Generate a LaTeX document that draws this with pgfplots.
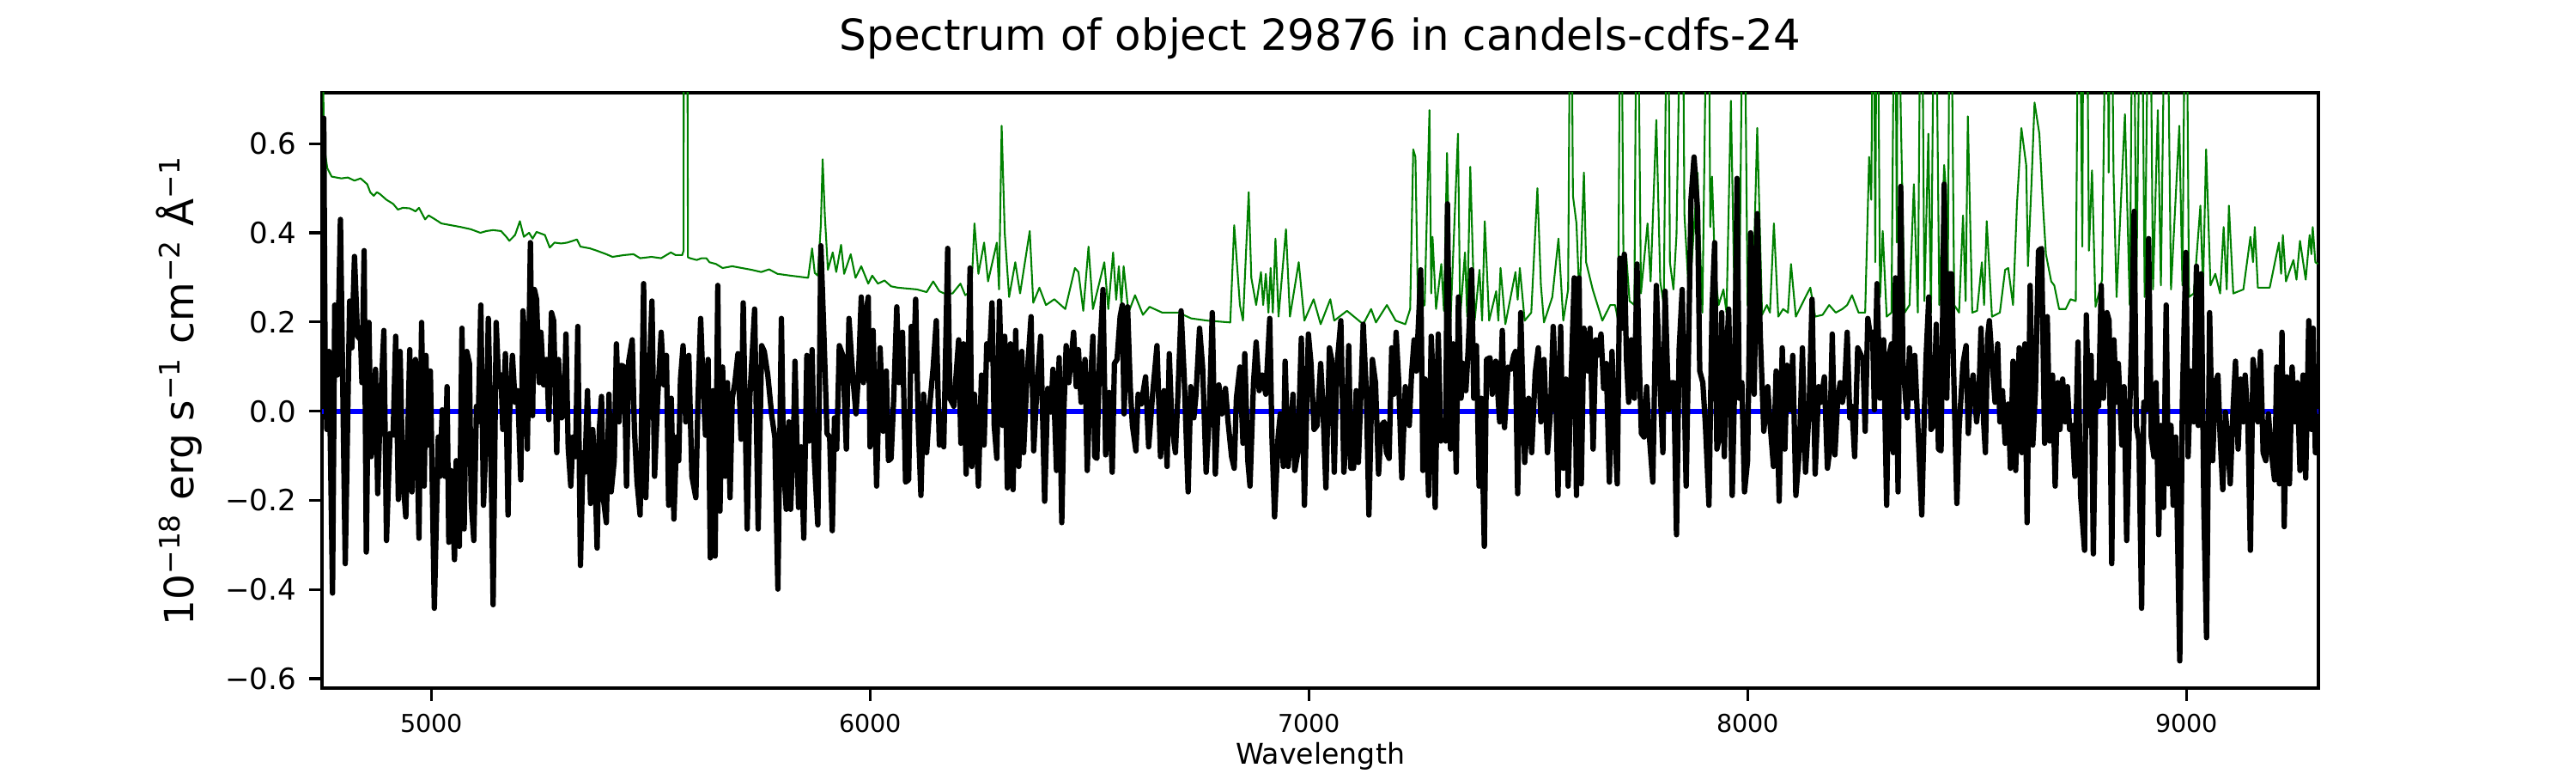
\documentclass[border=0pt]{standalone}
\usepackage{fontspec}
\setmainfont{DejaVu Sans}
\usepackage{pgfplots}
\pgfplotsset{compat=1.18}
\definecolor{mplgreen}{HTML}{008000}
\definecolor{mplblue}{HTML}{0000FF}
\begin{document}
\begin{tikzpicture}
\path[use as bounding box] (0,0) rectangle (10in,3in);
\begin{axis}[
  at={(1.25in,0.33in)}, anchor=south west, scale only axis,
  width=7.75in, height=2.31in,
  xmin=4750, xmax=9300, ymin=-0.621, ymax=0.714,
  axis line style={line width=0.8pt},
  tick align=outside, xtick pos=bottom, ytick pos=left,
  major tick length=3.5pt,
  every tick/.style={black, line width=0.8pt},
  xtick={5000,6000,7000,8000,9000},
  xticklabels={5000,6000,7000,8000,9000},
  ytick={-0.6,-0.4,-0.2,0,0.2,0.4,0.6},
  yticklabels={−0.6,−0.4,−0.2,0.0,0.2,0.4,0.6},
  xticklabel style={font=\fontsize{6.9}{8}\selectfont, anchor=north, inner sep=0pt, yshift=-3.5pt},
  yticklabel style={font=\fontsize{8.2}{10}\selectfont, anchor=east, inner sep=0pt, xshift=-3.5pt},
  title={Spectrum of object 29876 in candels-cdfs-24},
  title style={at={(axis description cs:0.5,1)}, anchor=base, yshift=6pt, inner sep=0pt, font=\fontsize{12}{14}\selectfont},
  xlabel={Wavelength},
  xlabel style={at={(axis description cs:0.5,0)}, anchor=north, yshift=-15.1pt, inner sep=0pt, font=\fontsize{8}{10}\selectfont},
  ylabel={10\textsuperscript{−18} erg s\textsuperscript{−1} cm\textsuperscript{−2} Å\textsuperscript{−1}},
  ylabel style={at={(axis description cs:-0.0642,0.5)}, anchor=base, inner sep=0pt, font=\fontsize{11.3}{13}\selectfont},
  clip=true,
]
\addplot[mplgreen, line width=0.5pt, line join=round] coordinates {
(4750,1.2)(4752,0.80)(4754,0.64)(4757,0.58)(4762,0.545)(4772,0.526)(4794,0.522)(4809,0.524)(4824,0.517)(4838,0.522)(4853,0.509)(4860,0.491)(4868,0.483)(4875,0.491)(4882,0.487)(4897,0.474)(4912,0.465)(4923,0.452)(4934,0.456)(4949,0.455)(4956,0.452)(4963,0.448)(4971,0.456)(4985,0.430)(4993,0.439)(5008,0.430)(5022,0.421)(5044,0.417)(5066,0.413)(5089,0.408)(5111,0.400)(5125,0.404)(5140,0.406)(5158,0.404)(5170,0.391)(5177,0.382)(5190,0.395)(5201,0.426)(5210,0.391)(5222,0.400)(5230,0.387)(5239,0.402)(5258,0.395)(5269,0.367)(5280,0.378)(5295,0.376)(5309,0.378)(5331,0.385)(5339,0.369)(5361,0.365)(5376,0.360)(5398,0.352)(5412,0.346)(5438,0.350)(5460,0.352)(5475,0.343)(5501,0.346)(5523,0.343)(5545,0.356)(5556,0.350)(5571,0.350)(5574,0.36)(5575,1.2)(5582,1.2)(5584,0.345)(5589,0.343)(5604,0.339)(5615,0.343)(5626,0.343)(5633,0.334)(5648,0.330)(5663,0.321)(5685,0.325)(5707,0.321)(5729,0.317)(5751,0.312)(5769,0.318)(5788,0.308)(5817,0.304)(5858,0.299)(5867,0.365)(5873,0.31)(5880,0.304)(5887,0.42)(5891,0.565)(5896,0.439)(5903,0.317)(5914,0.356)(5922,0.312)(5933,0.373)(5940,0.308)(5955,0.352)(5966,0.299)(5979,0.325)(5995,0.286)(6004,0.304)(6017,0.286)(6032,0.293)(6047,0.280)(6062,0.277)(6084,0.275)(6106,0.273)(6128,0.267)(6143,0.291)(6157,0.269)(6168,0.264)(6187,0.264)(6205,0.286)(6216,0.260)(6230,0.27)(6237,0.421)(6246,0.308)(6259,0.378)(6268,0.291)(6288,0.378)(6293,0.273)(6299,0.640)(6306,0.400)(6316,0.256)(6330,0.334)(6341,0.264)(6363,0.404)(6371,0.243)(6385,0.277)(6400,0.238)(6419,0.251)(6444,0.229)(6466,0.321)(6474,0.312)(6485,0.225)(6497,0.369)(6507,0.229)(6533,0.334)(6542,0.229)(6553,0.356)(6560,0.25)(6566,0.325)(6572,0.24)(6577,0.325)(6588,0.221)(6603,0.260)(6621,0.216)(6636,0.234)(6665,0.221)(6702,0.221)(6731,0.208)(6768,0.203)(6820,0.199)(6829,0.417)(6842,0.238)(6849,0.203)(6862,0.491)(6868,0.299)(6879,0.238)(6890,0.312)(6895,0.238)(6901,0.308)(6907,0.221)(6912,0.321)(6917,0.221)(6923,0.387)(6930,0.212)(6947,0.408)(6956,0.212)(6976,0.334)(6989,0.203)(7010,0.251)(7026,0.195)(7048,0.251)(7057,0.203)(7086,0.225)(7123,0.195)(7141,0.229)(7152,0.199)(7177,0.238)(7197,0.203)(7219,0.195)(7230,0.229)(7237,0.587)(7242,0.570)(7248,0.229)(7263,0.238)(7274,0.675)(7278,0.264)(7281,0.391)(7289,0.229)(7301,0.330)(7307,0.225)(7314,0.579)(7322,0.203)(7339,0.622)(7344,0.212)(7355,0.356)(7360,0.212)(7367,0.548)(7377,0.203)(7388,0.317)(7394,0.203)(7400,0.426)(7410,0.203)(7426,0.269)(7431,0.203)(7436,0.321)(7447,0.195)(7470,0.312)(7475,0.25)(7480,0.321)(7491,0.203)(7506,0.221)(7520,0.500)(7528,0.282)(7535,0.199)(7554,0.256)(7568,0.387)(7579,0.203)(7590,0.273)(7596,1.2)(7601,0.483)(7609,0.421)(7616,0.247)(7626,0.535)(7631,0.334)(7646,0.273)(7668,0.203)(7686,0.238)(7697,0.238)(7704,0.203)(7710,1.2)(7716,0.352)(7723,0.343)(7730,0.247)(7741,0.238)(7747,1.2)(7756,0.264)(7771,0.421)(7778,0.291)(7791,0.653)(7800,0.291)(7808,0.238)(7817,1.2)(7822,0.334)(7830,0.273)(7837,0.395)(7850,1.2)(7855,0.443)(7866,0.247)(7885,0.535)(7896,0.221)(7909,1.2)(7914,0.413)(7918,0.526)(7925,0.308)(7933,0.238)(7944,0.273)(7951,0.221)(7961,0.696)(7969,0.256)(7980,0.212)(7990,1.2)(7999,0.238)(8010,0.212)(8021,0.635)(8032,0.216)(8043,0.238)(8050,0.221)(8059,0.421)(8069,0.212)(8080,0.229)(8091,0.221)(8098,0.330)(8109,0.212)(8131,0.256)(8142,0.277)(8153,0.212)(8170,0.216)(8185,0.238)(8200,0.221)(8215,0.229)(8226,0.238)(8237,0.260)(8252,0.221)(8267,0.221)(8276,0.570)(8281,0.474)(8286,1.2)(8290,0.334)(8294,1.2)(8301,0.256)(8307,0.404)(8316,0.212)(8327,0.221)(8335,1.2)(8339,0.378)(8342,1.2)(8348,0.675)(8357,0.221)(8368,0.238)(8378,0.509)(8387,0.221)(8395,1.2)(8402,0.247)(8411,0.622)(8417,0.221)(8426,1.2)(8436,0.238)(8447,0.552)(8451,0.500)(8455,0.238)(8461,1.2)(8470,0.238)(8481,0.221)(8490,0.439)(8496,0.247)(8501,0.661)(8511,0.221)(8522,0.225)(8533,0.334)(8538,0.238)(8544,0.426)(8556,0.212)(8574,0.221)(8586,0.317)(8593,0.321)(8604,0.238)(8613,0.465)(8623,0.635)(8634,0.552)(8638,0.325)(8646,0.509)(8653,0.692)(8664,0.622)(8672,0.465)(8679,0.352)(8691,0.291)(8698,0.282)(8709,0.229)(8724,0.229)(8735,0.251)(8747,0.247)(8754,1.2)(8762,0.369)(8765,1.2)(8771,1.2)(8777,0.360)(8784,0.540)(8792,0.234)(8807,0.295)(8818,1.2)(8822,0.535)(8827,1.2)(8833,0.535)(8840,0.256)(8859,0.666)(8870,0.238)(8878,1.2)(8885,0.264)(8896,1.2)(8904,0.256)(8915,1.2)(8923,0.273)(8934,0.675)(8941,0.282)(8953,1.2)(8964,0.273)(8983,0.640)(8990,0.282)(8998,1.2)(9005,0.256)(9016,0.264)(9031,0.461)(9037,0.273)(9044,0.587)(9054,0.282)(9065,0.308)(9076,0.264)(9084,0.413)(9091,0.273)(9096,0.461)(9106,0.264)(9129,0.273)(9145,0.391)(9151,0.334)(9155,0.413)(9162,0.277)(9189,0.277)(9210,0.378)(9215,0.308)(9219,0.395)(9226,0.291)(9243,0.339)(9250,0.295)(9258,0.382)(9271,0.295)(9280,0.395)(9284,0.352)(9287,0.413)(9293,0.334)(9299,0.330)
};
\addplot[mplblue, line width=1.4pt] coordinates {(4750,0)(9300,0)};
\addplot[black, line width=1.5pt, line join=round] coordinates {
(4750,0.55)(4754,0.657)(4757,0.134)(4761,-0.041)(4766,0.134)(4774,-0.408)(4779,0.238)(4785,0.081)(4792,0.430)(4803,-0.342)(4813,0.247)(4818,0.142)(4824,0.347)(4831,0.168)(4838,0.160)(4841,0.064)(4846,0.360)(4851,-0.316)(4857,0.199)(4862,-0.102)(4868,-0.015)(4872,0.094)(4877,-0.185)(4882,-0.019)(4891,0.181)(4897,-0.290)(4905,-0.050)(4912,-0.054)(4918,0.168)(4924,-0.198)(4928,0.134)(4934,-0.146)(4941,-0.237)(4950,0.138)(4955,-0.181)(4963,0.116)(4971,-0.285)(4977,0.199)(4983,-0.168)(4987,0.125)(4991,-0.076)(4997,0.090)(5006,-0.442)(5015,-0.058)(5019,-0.146)(5024,0.003)(5030,-0.146)(5035,0.055)(5039,-0.294)(5044,-0.133)(5052,-0.333)(5056,-0.111)(5063,-0.303)(5069,0.186)(5074,-0.264)(5080,0.134)(5086,0.107)(5090,-0.202)(5096,-0.290)(5102,0.011)(5106,-0.024)(5112,0.238)(5118,-0.211)(5124,-0.067)(5129,0.208)(5134,-0.015)(5140,-0.434)(5147,0.199)(5153,0.055)(5158,0.081)(5162,-0.041)(5168,0.129)(5174,-0.233)(5177,-0.015)(5184,0.125)(5190,0.020)(5196,0.046)(5203,-0.154)(5208,0.225)(5212,0.160)(5218,-0.085)(5225,0.378)(5230,-0.010)(5234,0.273)(5239,0.251)(5245,0.064)(5249,0.177)(5255,0.059)(5262,0.116)(5267,-0.019)(5273,0.221)(5278,0.203)(5285,-0.093)(5289,0.116)(5296,-0.015)(5302,-0.006)(5306,0.173)(5311,-0.080)(5317,-0.168)(5322,-0.058)(5328,-0.102)(5333,0.190)(5339,-0.346)(5345,-0.093)(5349,-0.137)(5355,0.046)(5362,-0.207)(5367,-0.041)(5372,-0.133)(5377,-0.307)(5382,-0.041)(5387,0.033)(5392,-0.202)(5398,-0.250)(5404,0.038)(5409,-0.181)(5416,-0.111)(5421,0.151)(5427,-0.024)(5433,0.103)(5439,0.099)(5444,-0.168)(5449,0.112)(5457,0.160)(5462,-0.041)(5468,-0.159)(5475,-0.233)(5483,0.286)(5488,-0.194)(5495,0.055)(5502,0.247)(5508,-0.146)(5515,0.029)(5523,0.177)(5529,0.059)(5535,0.125)(5540,-0.211)(5546,0.029)(5552,-0.242)(5558,-0.058)(5563,-0.111)(5567,0.072)(5573,0.147)(5579,-0.024)(5586,0.125)(5593,-0.146)(5602,-0.194)(5607,0.029)(5613,0.208)(5618,0.072)(5624,-0.054)(5630,0.116)(5635,-0.329)(5641,0.046)(5646,-0.325)(5652,0.282)(5657,-0.224)(5663,0.099)(5669,-0.146)(5674,0.064)(5680,-0.194)(5685,0.029)(5691,0.064)(5698,0.129)(5705,-0.063)(5710,0.243)(5719,-0.264)(5725,0.029)(5736,0.229)(5744,-0.264)(5752,0.147)(5758,0.134)(5766,0.081)(5775,-0.010)(5782,-0.058)(5789,-0.399)(5797,0.208)(5802,-0.120)(5808,-0.220)(5814,-0.024)(5818,-0.220)(5825,-0.041)(5828,0.112)(5836,-0.216)(5842,-0.080)(5848,-0.285)(5855,0.125)(5860,-0.067)(5867,0.138)(5872,-0.106)(5880,-0.255)(5887,0.371)
(5894,0.168)(5901,-0.050)(5907,-0.058)(5913,-0.268)(5918,-0.015)(5923,-0.085)(5929,0.147)(5937,0.125)(5945,-0.085)(5951,0.208)(5957,0.116)(5962,0.051)(5967,-0.006)(5973,0.090)(5979,0.256)(5984,0.064)(5990,0.221)(5995,0.256)(5999,-0.080)(6006,0.181)(6014,-0.168)(6022,0.142)(6029,-0.045)(6036,0.090)(6041,-0.111)(6047,-0.106)(6053,0.029)(6060,0.234)(6065,0.064)(6073,0.177)(6080,-0.159)(6087,-0.154)(6093,0.190)(6098,0.090)(6103,0.251)(6109,-0.032)(6115,-0.189)(6121,0.038)(6128,-0.093)(6135,0.011)(6143,0.099)(6150,0.203)(6157,-0.076)(6163,-0.006)(6167,-0.080)(6176,0.365)(6181,0.029)(6190,0.011)(6201,0.160)(6206,-0.072)(6212,0.151)(6218,-0.141)(6227,0.321)(6231,-0.124)(6237,0.038)(6246,-0.168)(6253,0.081)(6259,-0.076)(6265,0.151)(6271,0.116)(6277,0.243)(6282,-0.032)(6288,-0.106)(6294,0.247)(6301,-0.032)(6306,0.168)(6312,-0.172)(6319,0.151)(6325,-0.176)(6331,0.181)(6338,-0.124)(6345,0.134)(6349,-0.093)(6356,0.064)(6366,0.212)(6372,-0.089)(6380,0.064)(6388,0.168)(6397,-0.202)(6404,0.051)(6411,-0.002)(6416,0.094)(6424,-0.133)(6430,0.120)(6436,-0.250)(6441,0.007)(6446,0.147)(6452,0.064)(6463,0.177)(6469,0.055)(6474,0.138)(6480,0.020)(6489,0.116)(6494,-0.133)(6500,0.038)(6507,0.168)(6511,-0.102)(6516,-0.106)(6522,0.116)(6530,0.273)(6536,-0.098)(6544,0.042)(6551,-0.137)(6556,0.107)(6562,0.116)(6569,0.212)(6574,0.238)(6578,-0.006)(6586,0.234)(6592,0.055)(6597,-0.032)(6605,-0.089)(6610,0.038)(6617,0.016)(6627,0.077)(6634,-0.080)(6643,0.038)(6653,0.147)(6661,-0.102)(6669,0.046)(6676,-0.124)(6681,0.129)(6687,-0.032)(6695,-0.093)(6700,0.020)(6708,0.225)(6715,0.077)(6724,-0.181)(6730,0.055)(6737,-0.015)(6742,0.038)(6750,0.186)(6757,0.099)(6765,-0.137)(6772,-0.015)(6779,0.221)(6786,-0.141)(6794,0.059)(6801,-0.006)(6809,0.051)(6815,-0.024)(6823,-0.102)(6829,-0.128)(6834,0.029)(6842,0.099)(6849,-0.072)(6853,0.129)(6860,-0.111)(6865,-0.168)(6873,0.064)(6879,0.155)(6886,0.046)(6893,0.081)(6901,0.038)(6910,0.208)(6915,-0.058)(6921,-0.237)(6929,-0.058)(6934,-0.006)(6941,-0.124)(6945,0.112)(6952,-0.124)(6963,0.038)(6967,-0.133)(6974,-0.093)(6982,0.164)(6989,-0.211)(6998,0.173)(7004,0.107)(7011,-0.041)(7018,-0.032)
(7026,0.107)(7031,0.016)(7038,-0.172)(7046,0.142)(7051,0.116)(7057,-0.137)(7063,0.099)(7072,0.203)(7079,-0.137)(7085,-0.050)(7090,0.147)(7095,-0.128)(7101,-0.128)(7107,0.046)(7112,-0.115)(7118,0.046)(7123,0.195)(7130,0.046)(7136,-0.233)(7144,0.116)(7151,0.064)(7158,-0.141)(7164,-0.032)(7171,-0.024)(7176,-0.093)(7182,-0.106)(7188,0.142)(7193,0.038)(7198,0.177)(7204,0.064)(7211,-0.150)(7219,0.055)(7228,-0.032)(7233,0.081)(7239,0.160)(7244,0.090)(7250,0.221)(7254,0.317)(7259,-0.133)(7264,0.072)(7272,-0.189)(7278,0.168)(7282,0.072)(7287,-0.216)(7294,0.173)(7300,-0.067)(7307,-0.041)(7311,-0.067)(7315,0.465)(7322,-0.085)(7328,0.151)(7335,-0.137)(7340,0.256)(7346,0.029)(7351,0.107)(7357,0.046)(7362,0.134)(7370,0.317)(7375,0.029)(7381,0.147)(7387,-0.168)(7392,0.029)(7399,-0.303)(7404,0.116)(7412,0.120)(7417,0.038)(7425,0.112)(7434,-0.024)(7440,0.181)(7445,-0.037)(7453,0.099)(7460,0.094)(7466,0.125)(7470,0.134)(7475,-0.185)(7482,0.221)(7491,-0.115)(7500,0.029)(7507,-0.093)(7515,0.085)(7522,0.142)(7528,-0.024)(7535,0.116)(7543,-0.093)(7550,0.003)(7556,0.190)(7561,0.081)(7567,-0.189)(7573,0.190)(7579,-0.128)(7585,0.072)(7590,-0.168)(7596,0.046)(7604,0.299)(7609,-0.189)(7615,0.299)(7620,-0.163)(7626,0.186)(7635,0.090)(7640,0.186)(7647,-0.085)(7653,0.160)(7657,0.125)(7665,0.173)(7671,0.051)(7677,0.107)(7684,-0.159)(7690,0.134)(7696,-0.037)(7702,-0.163)(7708,0.343)(7713,0.186)(7718,0.352)(7723,0.116)(7728,0.020)(7734,0.160)(7741,0.029)(7747,0.330)(7752,0.116)(7757,-0.050)(7763,-0.058)(7769,0.055)(7774,-0.041)(7783,-0.159)(7791,0.282)(7799,0.072)(7806,-0.093)(7811,0.269)(7819,0.003)(7826,0.064)(7831,0.064)(7837,-0.277)(7843,0.138)(7850,0.273)(7859,-0.168)(7865,0.168)(7870,0.474)(7877,0.570)(7885,0.452)(7890,0.090)(7897,0.064)(7903,-0.032)(7911,-0.211)(7918,0.229)(7924,0.378)(7929,-0.085)(7935,-0.058)(7940,0.221)(7946,-0.102)(7951,0.125)(7956,0.229)(7964,-0.189)(7969,0.038)(7975,0.522)(7980,0.029)(7986,0.064)(7992,-0.181)(7999,-0.111)(8006,0.400)(8014,0.038)(8021,0.443)(8028,0.168)(8036,-0.045)(8045,0.055)(8050,-0.024)(8058,-0.124)(8064,0.090)(8071,-0.202)(8078,0.142)(8084,-0.085)(8089,0.103)(8096,0.003)(8102,0.125)(8109,-0.189)(8117,-0.089)(8124,0.142)(8131,-0.137)(8139,-0.002)(8146,0.251)(8153,-0.141)
(8161,0.055)(8166,0.020)(8174,0.077)(8181,-0.128)(8186,-0.089)(8192,0.173)(8198,-0.098)(8204,0.020)(8210,0.064)(8215,0.020)(8220,0.051)(8226,0.177)(8232,-0.015)(8237,0.011)(8243,-0.102)(8250,0.142)(8256,0.129)(8262,0.116)(8267,-0.045)(8273,0.208)(8279,0.168)(8284,0.177)(8288,0.003)(8294,0.286)(8301,0.029)(8309,0.160)(8316,-0.211)(8321,0.125)(8327,0.151)(8331,-0.093)(8336,0.299)(8342,-0.181)(8348,0.504)(8353,0.116)(8359,0.029)(8363,-0.015)(8368,0.142)(8374,0.029)(8380,0.125)(8387,-0.032)(8396,-0.233)(8402,0.003)(8406,0.125)(8412,0.256)(8417,-0.041)(8423,-0.032)(8429,0.195)(8434,-0.085)(8440,-0.089)(8447,0.509)(8453,0.029)(8458,0.308)(8464,0.308)(8468,0.116)(8476,-0.207)(8481,-0.041)(8490,0.107)(8497,0.147)(8502,-0.050)(8507,0.038)(8513,0.081)(8521,-0.024)(8526,0.029)(8531,0.186)(8537,-0.024)(8541,-0.093)(8546,0.164)(8550,0.203)(8556,0.116)(8563,0.020)(8569,0.151)(8574,-0.024)(8580,0.046)(8586,-0.072)(8593,0.016)(8598,-0.128)(8604,0.112)(8610,-0.133)(8618,0.142)(8624,-0.093)(8631,0.151)(8636,-0.250)(8643,0.282)(8649,-0.076)(8655,0.046)(8662,0.360)(8669,0.365)(8676,-0.072)(8682,0.212)(8688,-0.067)(8694,0.081)(8700,-0.168)(8706,0.064)(8711,-0.041)(8717,0.072)(8723,-0.024)(8728,0.055)(8733,-0.041)(8739,-0.032)(8745,-0.146)(8752,0.155)(8758,-0.189)(8767,-0.312)(8771,0.216)(8777,-0.032)(8782,0.125)(8787,-0.320)(8793,0.064)(8799,0.011)(8805,0.282)(8810,0.029)(8818,0.221)(8823,0.203)(8829,-0.342)(8834,0.160)(8839,0.020)(8844,0.107)(8852,-0.076)(8857,0.055)(8863,-0.290)(8869,-0.032)(8874,0.151)(8880,0.448)(8885,-0.032)(8891,-0.067)(8897,-0.442)(8902,0.020)(8908,0.003)(8913,0.387)(8919,-0.058)(8925,-0.102)(8930,0.064)(8936,-0.277)(8941,-0.032)(8947,-0.216)(8953,0.238)(8958,-0.163)(8964,-0.032)(8969,-0.211)(8975,-0.058)(8984,-0.560)(8990,0.029)(8998,0.356)(9003,-0.102)(9009,0.090)(9016,-0.024)(9022,0.325)(9026,-0.032)(9033,0.308)(9039,-0.224)(9045,-0.508)(9052,0.221)(9059,-0.111)(9065,0.064)(9071,0.081)(9076,-0.058)(9082,-0.176)(9088,-0.002)(9093,-0.058)(9099,-0.163)(9105,-0.006)(9111,0.112)(9117,-0.085)(9123,0.072)(9129,-0.024)(9133,0.081)(9139,-0.015)(9145,-0.312)(9151,0.116)(9157,0.064)(9162,-0.024)(9168,0.134)(9174,-0.093)(9180,-0.111)(9186,-0.006)(9192,-0.085)(9200,-0.154)(9205,0.099)(9211,-0.163)(9217,0.177)(9222,-0.259)(9228,0.077)(9234,-0.163)(9240,0.099)(9246,-0.024)(9252,0.064)(9258,-0.133)(9265,0.081)(9271,-0.150)(9278,0.203)(9284,-0.041)(9288,0.186)(9293,-0.093)(9299,-0.093)
};
\end{axis}
\end{tikzpicture}
\end{document}
